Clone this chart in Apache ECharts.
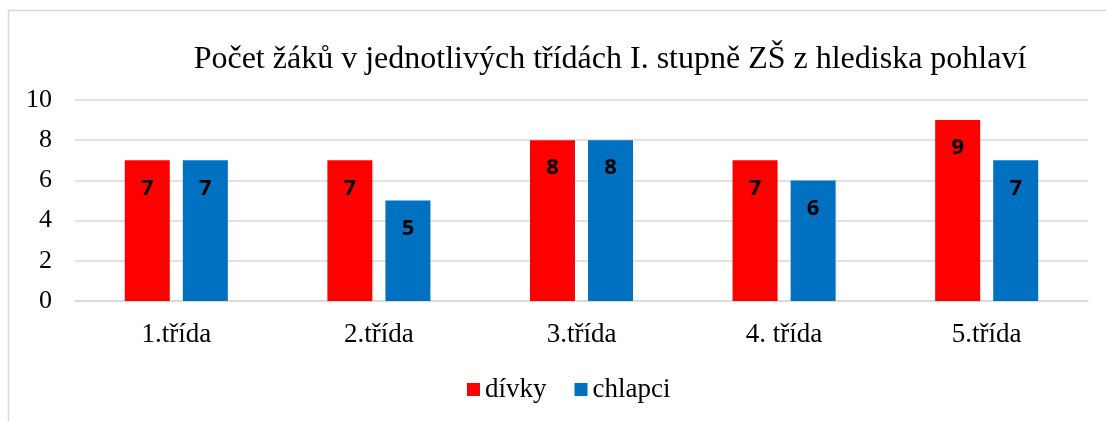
<!DOCTYPE html>
<html>
<head>
<meta charset="utf-8">
<script src="https://cdn.jsdelivr.net/npm/echarts@6/dist/echarts.min.js"></script>
<style>
html, body { margin: 0; padding: 0; background: #fff; }
#chart { width: 1106px; height: 421px; }
</style>
</head>
<body>
<div id="chart"></div>
<script>
var categories = ['1.třída', '2.třída', '3.třída', '4. třída', '5.třída'];
var girls = [7, 7, 8, 7, 9];
var boys = [7, 5, 8, 6, 7];
var yTicks = [0, 2, 4, 6, 8, 10];

var chartDom = document.getElementById('chart');
var myChart = echarts.init(chartDom);
var serif = '"Liberation Serif", "DejaVu Serif", serif';

var labelStyle = {
    show: true,
    position: 'insideTop',
    distance: 17,
    fontFamily: '"Open Sans", "Liberation Sans", sans-serif',
    fontWeight: 'bold',
    fontSize: 22,
    color: '#000'
};

var option = {
    animation: false,
    graphic: [{
        type: 'rect',
        shape: { x: 8.5, y: 10.5, width: 1200, height: 500 },
        style: { fill: 'none', stroke: '#d9d9d9', lineWidth: 1.5 },
        silent: true
    }],
    title: {
        text: 'Počet žáků v jednotlivých třídách I. stupně ZŠ z hlediska pohlaví',
        left: 605,
        top: 39,
        textAlign: 'center',
        textStyle: {
            fontFamily: serif,
            fontWeight: 'normal',
            fontSize: 32,
            color: '#000'
        }
    },
    legend: {
        data: ['dívky', 'chlapci'],
        left: 462,
        top: 371,
        itemWidth: 13,
        itemHeight: 13,
        itemGap: 28,
        icon: 'rect',
        textStyle: { fontFamily: serif, fontSize: 27, color: '#000' }
    },
    grid: {
        left: 75,
        right: 18,
        top: 100,
        bottom: 120,
        containLabel: false
    },
    xAxis: {
        type: 'category',
        data: categories,
        axisTick: { show: false },
        axisLine: { lineStyle: { color: '#d9d9d9', width: 1.5 } },
        axisLabel: {
            fontFamily: serif,
            fontSize: 27,
            color: '#000',
            margin: 20
        }
    },
    yAxis: {
        type: 'value',
        min: yTicks[0],
        max: yTicks[yTicks.length - 1],
        interval: 2,
        axisLine: { show: false },
        axisTick: { show: false },
        splitLine: { lineStyle: { color: '#d9d9d9', width: 1.5 } },
        axisLabel: {
            fontFamily: serif,
            fontSize: 26,
            color: '#000',
            margin: 23
        }
    },
    series: [
        {
            name: 'dívky',
            type: 'bar',
            data: girls,
            barWidth: 45,
            barGap: '29%',
            itemStyle: { color: '#ff0000' },
            label: labelStyle
        },
        {
            name: 'chlapci',
            type: 'bar',
            data: boys,
            barWidth: 45,
            itemStyle: { color: '#0070c0' },
            label: labelStyle
        }
    ]
};

option && myChart.setOption(option);
</script>
</body>
</html>
